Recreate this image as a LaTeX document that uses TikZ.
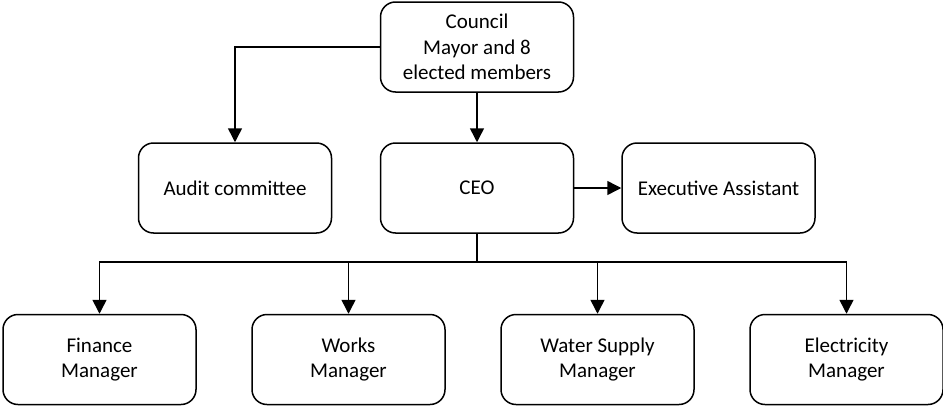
\documentclass[tikz,border=0pt]{standalone}
\usepackage{fontspec}
\setmainfont{Carlito}
\usetikzlibrary{arrows.meta}
\begin{document}
\begin{tikzpicture}[x=1pt,y=1pt,
  box/.style={draw, line width=1.5pt, rounded corners=15pt, minimum width=193pt, minimum height=90pt, align=center, inner sep=0pt, font=\fontsize{21}{25.5}\selectfont},
  conn/.style={line width=1.5pt, -{Triangle[width=14pt,length=14pt]}},
  plain/.style={line width=1.5pt}]
\useasboundingbox (0,0) rectangle (943,-407);
\node[box] (council) at (477,-47) {Council\\Mayor and 8\\elected members};
\node[box] (audit) at (235,-188) {Audit committee};
\node[box] (ceo) at (477,-188) {CEO};
\node[box] (exec) at (718.5,-188) {Executive Assistant};
\node[box] (fin) at (99.5,-359.5) {Finance\\Manager};
\node[box] (works) at (348.5,-359.5) {Works\\Manager};
\node[box] (water) at (597.5,-359.5) {Water Supply\\Manager};
\node[box] (elec) at (846.5,-359.5) {Electricity\\Manager};
\coordinate (bus) at (477,-262);
\draw[conn] (council.west) -| (audit.north);
\draw[conn] (council.south) -- (ceo.north);
\draw[conn] (ceo.east) -- (exec.west);
\draw[plain] (ceo.south) -- (bus);
\draw[conn] (bus) -| (fin.north);
\draw[conn] (bus) -| (works.north);
\draw[conn] (bus) -| (water.north);
\draw[conn] (bus) -| (elec.north);
\end{tikzpicture}
\end{document}
